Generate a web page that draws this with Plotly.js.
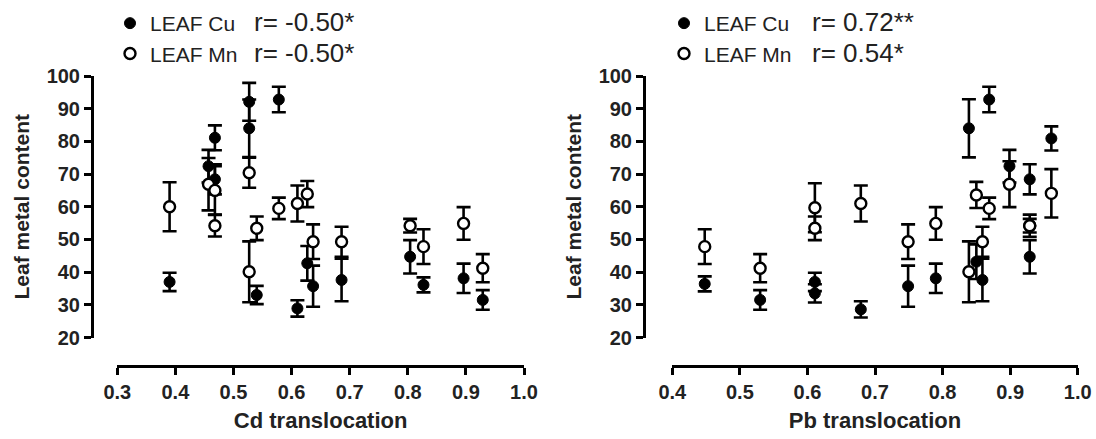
<!DOCTYPE html>
<html>
<head>
<meta charset="utf-8">
<script src="https://cdn.plot.ly/plotly-3.0.1.min.js"></script>
<style>html,body{margin:0;padding:0;background:#fff;}#chart{width:1096px;height:439px;}</style>
</head>
<body>
<div id="chart"></div>
<script>
// ---- Left panel: Cd translocation ----
const cd_x      = [0.39, 0.457, 0.468, 0.468, 0.527, 0.527, 0.54, 0.578, 0.61, 0.627, 0.637, 0.686, 0.804, 0.827, 0.896, 0.929];
const cd_cu     = [37, 72.4, 68.4, 81.1, 92.1, 84, 33, 92.8, 28.9, 42.7, 35.7, 37.6, 44.7, 36.1, 38.1, 31.5];
const cd_cu_err = [2.8, 5, 4.6, 3.8, 5.8, 8.8, 2.8, 3.9, 2.5, 5.3, 6.3, 6.5, 5.1, 2.3, 4.5, 3];
const cd_mn     = [60, 66.9, 54.2, 65, 70.4, 40.1, 53.4, 59.5, 61, 63.9, 49.3, 49.3, 54.2, 47.8, 54.9, 41.2];
const cd_mn_err = [7.5, 8, 3.3, 7.4, 4.6, 9.3, 3.6, 3.3, 5.5, 4, 5.3, 4.6, 2.1, 5.3, 5, 4.3];

// ---- Right panel: Pb translocation ----
const pb_x      = [0.448, 0.53, 0.611, 0.611, 0.679, 0.749, 0.79, 0.839, 0.85, 0.859, 0.869, 0.899, 0.929, 0.929, 0.961];
const pb_cu     = [36.4, 31.5, 37, 33.5, 28.6, 35.7, 38.1, 84, 43.2, 37.6, 92.8, 72.4, 68.4, 44.7, 80.9];
const pb_cu_err = [2.3, 3, 2.8, 2.8, 2.5, 6.3, 4.5, 8.9, 5.3, 6.5, 3.9, 5, 4.6, 5.1, 3.7];
const pb_mn     = [47.8, 41.2, 59.7, 53.4, 61, 49.3, 54.9, 40.1, 63.6, 49.3, 59.5, 66.9, 54.2, 54.2, 64.1];
const pb_mn_err = [5.3, 4.3, 7.5, 3.6, 5.5, 5.3, 5, 9.3, 4, 4.6, 3.3, 7, 3.4, 2.1, 7.4];

const x_ticks_cd = [0.3, 0.4, 0.5, 0.6, 0.7, 0.8, 0.9, 1.0];
const x_ticks_pb = [0.4, 0.5, 0.6, 0.7, 0.8, 0.9, 1.0];
const y_ticks    = [20, 30, 40, 50, 60, 70, 80, 90, 100];

const legend_names = ["LEAF Cu", "LEAF Mn"];
const r_left  = ["r= -0.50*", "r= -0.50*"];
const r_right = ["r= 0.72**", "r= 0.54*"];

const W = 1096, H = 439;
const px = v => v / W;
const py = v => 1 - v / H;

const FONT = "Liberation Sans, Arial, Helvetica, sans-serif";

function errObj(arr) {
  return {type: 'data', array: arr, visible: true, color: '#000', thickness: 2.6, width: 7};
}
const cuMarker = {symbol: 'circle', size: 11, color: '#000', line: {color: '#000', width: 1}};
const mnMarker = {symbol: 'circle', size: 11, color: '#fff', line: {color: '#000', width: 2.4}};

const traces = [
  {x: cd_x, y: cd_cu, error_y: errObj(cd_cu_err), mode: 'markers', type: 'scatter', marker: cuMarker,
   name: legend_names[0], xaxis: 'x', yaxis: 'y', legend: 'legend', legendgroup: 'a'},
  {x: cd_x, y: cd_mn, error_y: errObj(cd_mn_err), mode: 'markers', type: 'scatter', marker: mnMarker,
   name: legend_names[1], xaxis: 'x', yaxis: 'y', legend: 'legend', legendgroup: 'b'},
  {x: pb_x, y: pb_cu, error_y: errObj(pb_cu_err), mode: 'markers', type: 'scatter', marker: cuMarker,
   name: legend_names[0], xaxis: 'x2', yaxis: 'y2', legend: 'legend2', legendgroup: 'c'},
  {x: pb_x, y: pb_mn, error_y: errObj(pb_mn_err), mode: 'markers', type: 'scatter', marker: mnMarker,
   name: legend_names[1], xaxis: 'x2', yaxis: 'y2', legend: 'legend2', legendgroup: 'd'}
];

function xAxis(domain, range, ticks, title) {
  return {
    domain: domain, range: range, anchor: 'free', position: py(366),
    tickmode: 'array', tickvals: ticks, ticktext: ticks.map(t => t.toFixed(1)),
    showline: true, linewidth: 3, linecolor: '#000', mirror: false,
    ticks: 'outside', ticklen: 7, tickwidth: 3, tickcolor: '#000',
    showgrid: false, zeroline: false, fixedrange: true,
    tickfont: {family: FONT, size: 20, color: '#222', weight: 'bold'},
    title: {text: title, font: {family: FONT, size: 22, color: '#222', weight: 'bold'}, standoff: 10}
  };
}
function yAxis(pos) {
  return {
    domain: [py(337.5), py(76)], range: [20, 100], anchor: 'free', position: pos,
    tickmode: 'array', tickvals: y_ticks, ticktext: y_ticks.map(String),
    showline: true, linewidth: 3, linecolor: '#000',
    ticks: 'outside', ticklen: 7, tickwidth: 3, tickcolor: '#000',
    showgrid: false, zeroline: false, fixedrange: true,
    tickfont: {family: FONT, size: 20, color: '#222', weight: 'bold'},
    title: {text: 'Leaf metal content', font: {family: FONT, size: 21, color: '#222', weight: 'bold'}, standoff: 10}
  };
}

const legendCommon = {
  font: {family: FONT, size: 21, color: '#222'},
  bgcolor: 'rgba(0,0,0,0)', borderwidth: 0,
  xanchor: 'left', yanchor: 'top', tracegroupgap: 0, itemclick: false, itemdoubleclick: false
};

const annotations = [];
[[r_left, 252], [r_right, 810]].forEach(([labels, xpix]) => {
  labels.forEach((t, i) => {
    annotations.push({
      text: t, xref: 'paper', yref: 'paper', x: px(xpix), y: py(i === 0 ? 22 : 53),
      xanchor: 'left', yanchor: 'middle', showarrow: false,
      font: {family: FONT, size: 26, color: '#222'}
    });
  });
});

const layout = {
  width: W, height: H,
  margin: {l: 0, r: 0, t: 0, b: 0, pad: 0},
  paper_bgcolor: '#fff', plot_bgcolor: '#fff',
  showlegend: true,
  xaxis:  xAxis([px(117.3), px(524)], [0.3, 1.0], x_ticks_cd, 'Cd translocation'),
  yaxis:  yAxis(px(92)),
  xaxis2: xAxis([px(672.3), px(1077.7)], [0.4, 1.0], x_ticks_pb, 'Pb translocation'),
  yaxis2: yAxis(px(644)),
  legend:  Object.assign({}, legendCommon, {x: px(110), y: py(3)}),
  legend2: Object.assign({}, legendCommon, {x: px(664), y: py(3)}),
  annotations: annotations
};

Plotly.newPlot('chart', traces, layout, {displayModeBar: false, staticPlot: true});
</script>
</body>
</html>
